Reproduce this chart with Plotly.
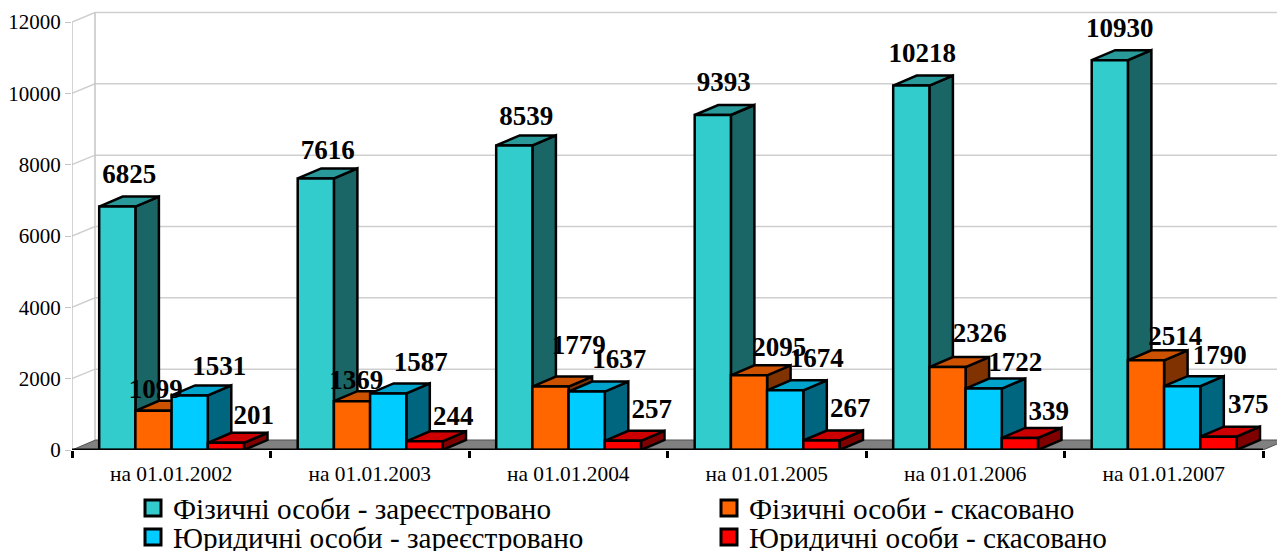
import plotly.graph_objects as go

categories = ["на 01.01.2002", "на 01.01.2003", "на 01.01.2004", "на 01.01.2005", "на 01.01.2006", "на 01.01.2007"]
fiz_reg = [6825, 7616, 8539, 9393, 10218, 10930]
fiz_can = [1099, 1369, 1779, 2095, 2326, 2514]
yur_reg = [1531, 1587, 1637, 1674, 1722, 1790]
yur_can = [201, 244, 257, 267, 339, 375]
names = ["Фізичні особи - зареєстровано", "Фізичні особи - скасовано",
         "Юридичні особи - зареєстровано", "Юридичні особи - скасовано"]
y_ticks = [0, 2000, 4000, 6000, 8000, 10000, 12000]

series = [fiz_reg, fiz_can, yur_reg, yur_can]
front = ["#33CCCC", "#FF6600", "#00CCFF", "#FF0000"]
top = ["#299999", "#CC5200", "#00A3CC", "#CC0000"]
side = ["#1A6666", "#803300", "#006680", "#800000"]

# label nudges in pixels, relative to the bar's top centre
shift_x = [[13, 13, 13, 12, 12, 11], [3, 5, 29, 31, 33, 30],
           [30, 33, 33, 32, 32, 38], [28, 29, 29, 29, 29, 30]]
shift_y = [[-30, -26, -27, -31, -30, -30], [-20, -19, -39, -26, -32, -22],
           [-27, -29, -30, -30, -24, -29], [-26, -23, -30, -30, -25, -30]]

W, H = 1277, 551
L, B_Y = 72, 450           # plot left and the pixel row of value 0
CAT_PX = 198.5
VAL_PX = 71.33 / 2000
XU = 1 / CAT_PX
YU = 1 / VAL_PX
DX, DY = 23 * XU, 9.5 * YU     # depth of the walls
BDX, BDY = 23.5 * XU, 10 * YU  # depth of the bars
N = len(categories)
GAP = 27.2 * XU
BW = 36.2 * XU

fig = go.Figure()


def poly(xs, ys, fill, line="black", width=2.5, z=0, clip=True):
    fig.add_trace(go.Scatter(x=xs, y=ys, mode="lines", fill="toself", fillcolor=fill,
                             line=dict(color=line, width=width), hoverinfo="skip",
                             showlegend=False, zorder=z, cliponaxis=clip))


def line(xs, ys, color, width, z=0, clip=True):
    fig.add_trace(go.Scatter(x=xs, y=ys, mode="lines", line=dict(color=color, width=width),
                             hoverinfo="skip", showlegend=False, zorder=z, cliponaxis=clip))


XMAX = (W - L) * XU
# back wall grid, left wall and floor
gx, gy = [], []
for t in y_ticks[1:]:
    gx += [0, DX, XMAX, None]
    gy += [t, t + DY, t + DY, None]
line(gx, gy, "#CFCFCF", 1.5, z=0)
line([0, 0, None, DX, DX], [0, 12000, None, DY, 12000 + DY], "#C4C4C4", 1.5, z=0)
poly([0, N, N + BDX, BDX, 0], [0, 0, BDY, BDY, 0], "#808080", line="#505050", width=1, z=1)

for s, vals in enumerate(series):
    sx, sy, tx, ty = [], [], [], []
    for i, v in enumerate(vals):
        x0 = i + GAP + s * BW
        x1 = x0 + BW
        sx += [x1, x1 + BDX, x1 + BDX, x1, x1, None]
        sy += [0, BDY, v + BDY, v, 0, None]
        tx += [x0, x0 + BDX, x1 + BDX, x1, x0, None]
        ty += [v, v + BDY, v + BDY, v, v, None]
    poly(sx, sy, side[s], z=2 + 2 * s)
    poly(tx, ty, top[s], z=2 + 2 * s)
    fig.add_trace(go.Bar(x=[i + GAP + (s + 0.5) * BW for i in range(N)], y=vals, width=BW,
                         marker=dict(color=front[s], line=dict(color="black", width=2.5)),
                         showlegend=False, hoverinfo="skip", zorder=3 + 2 * s, cliponaxis=False))

# x axis baseline
line([0, N], [0, 0], "black", 3, z=20, clip=False)

# value labels
for s, vals in enumerate(series):
    fig.add_trace(go.Scatter(
        x=[i + 26 * XU + (s + 0.5) * 36.5 * XU + shift_x[s][i] * XU for i in range(N)],
        y=[v - shift_y[s][i] * YU for i, v in enumerate(vals)],
        mode="text", text=[str(v) for v in vals], textposition="middle center",
        textfont=dict(family="Liberation Serif", size=27, color="black", weight="bold"),
        hoverinfo="skip", showlegend=False, zorder=30, cliponaxis=False))

# legend entries: one legend per entry so that rows can sit as tightly as the reference
legend_ids = ["legend", "legend2", "legend3", "legend4"]
legend_x = [133, 709, 133, 709]
legend_y = [508, 508, 537, 537]
for s, n in enumerate(names):
    fig.add_trace(go.Scatter(x=[None], y=[None], mode="markers", name=n, legend=legend_ids[s],
                             marker=dict(symbol="square", size=16, color=front[s],
                                         line=dict(color="black", width=3))))

legends = {}
for s, lid in enumerate(legend_ids):
    legends[lid] = dict(x=legend_x[s] / W, xref="container", xanchor="left",
                        y=1 - legend_y[s] / H, yref="container", yanchor="middle",
                        font=dict(size=29.2), bgcolor="rgba(0,0,0,0)",
                        itemclick=False, itemdoubleclick=False)

fig.update_layout(
    width=W, height=H, margin=dict(l=L, r=0, t=0, b=H - B_Y, autoexpand=False),
    paper_bgcolor="white", plot_bgcolor="white", showlegend=True,
    font=dict(family="Liberation Serif", color="black"),
    barmode="overlay",
    xaxis=dict(range=[0, XMAX], tickvals=[i + 0.5 for i in range(N)], ticktext=categories,
               ticks="", showgrid=False, zeroline=False, showline=False, ticklabelstandoff=9,
               tickfont=dict(size=21.4), automargin=False,
               minor=dict(tickvals=list(range(N + 1)), ticks="outside", ticklen=7, tickwidth=2.5,
                          tickcolor="black", showgrid=False)),
    yaxis=dict(range=[0, B_Y * YU], tickvals=y_ticks, tickformat="d", ticks="outside", ticklen=6, tickwidth=1,
               tickcolor="#C4C4C4", showgrid=False, zeroline=False, showline=False,
               tickfont=dict(size=21), automargin=False),
    **legends,
)

fig.write_html("out.html", config=dict(displayModeBar=False),
               post_script="document.body.style.margin='0';document.body.style.overflow='hidden';")
